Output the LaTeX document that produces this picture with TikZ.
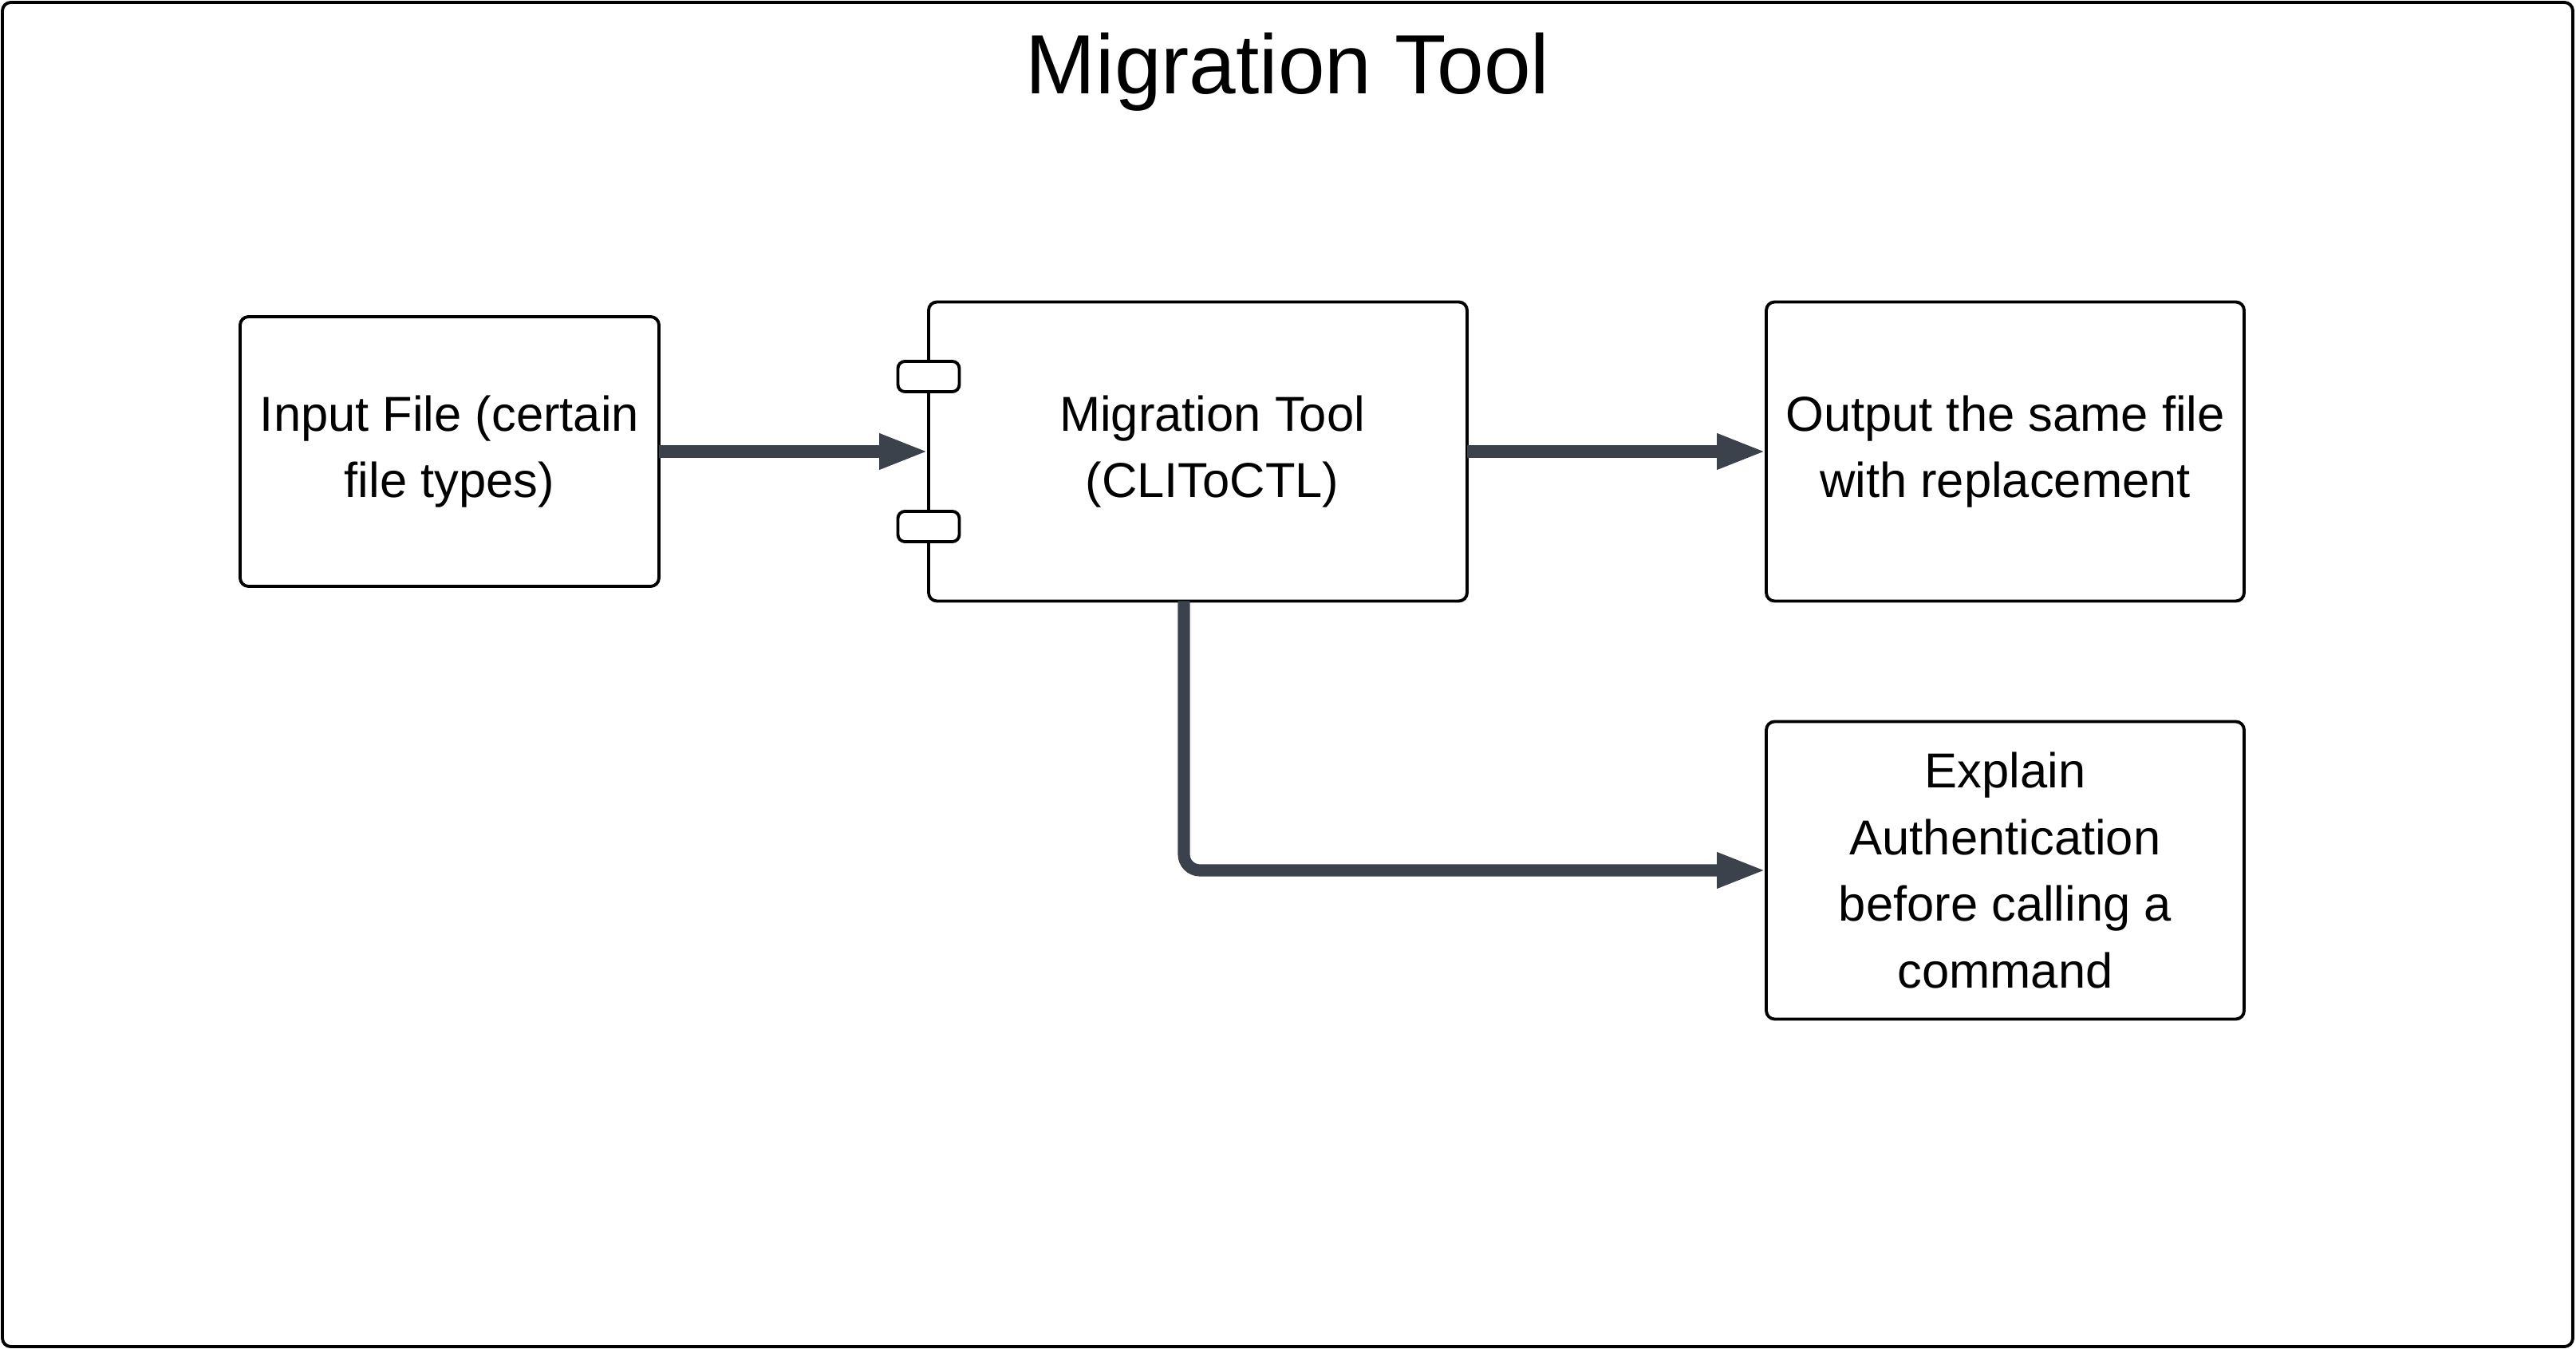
\documentclass[tikz,border=0pt]{standalone}
\usepackage{fontspec}
\setmainfont{Liberation Sans}
\usetikzlibrary{arrows.meta,positioning}
\definecolor{flowgray}{RGB}{60,66,75}

\begin{document}
\begin{tikzpicture}[
  frame/.style={draw=black,line width=1.1pt,rounded corners=3pt,minimum width=32.22cm,minimum height=16.85cm},
  box/.style={draw=black,line width=1.1pt,rounded corners=3pt,fill=white,outer sep=0pt,align=center,font=\fontsize{17.5}{23.8}\selectfont},
  port/.style={draw=black,line width=1.1pt,rounded corners=2.5pt,fill=white,minimum width=7.7mm,minimum height=3.8mm,inner sep=0pt},
  arr/.style={-{Triangle[length=6.2mm,width=4.1mm]},line width=4.3pt,flowgray},
  heading/.style={font=\fontsize{30}{36}\selectfont}
]
\useasboundingbox (0,0) rectangle (32.29,16.91);
\node[frame] (frame) at (16.14,8.455) {};
\node[heading,anchor=base] (title) at ([yshift=-11.6mm]frame.north) {Migration Tool};
\node[box,minimum width=5.25cm,minimum height=3.38cm] (input) at (5.635,11.25) {Input File (certain\\file types)};
\node[box,minimum width=6.75cm,minimum height=3.75cm,right=3.38cm of input] (tool) {\hspace*{3.6mm}Migration Tool\\\hspace*{3.6mm}(CLIToCTL)};
\node[port] (portA) at ([yshift=9.4mm]tool.west) {};
\node[port] (portB) at ([yshift=-9.4mm]tool.west) {};
\node[box,minimum width=5.99cm,minimum height=3.75cm,right=3.75cm of tool] (output) {Output the same file\\with replacement};
\node[box,minimum width=5.99cm,minimum height=3.73cm,below=1.51cm of output] (explain) {Explain\\Authentication\\before calling a\\command};
\draw[arr] (input) -- (tool);
\draw[arr] (tool) -- (output);
\draw[arr,rounded corners=2mm] ([xshift=-1.75mm]tool.south) |- (explain.west);
\end{tikzpicture}
\end{document}
